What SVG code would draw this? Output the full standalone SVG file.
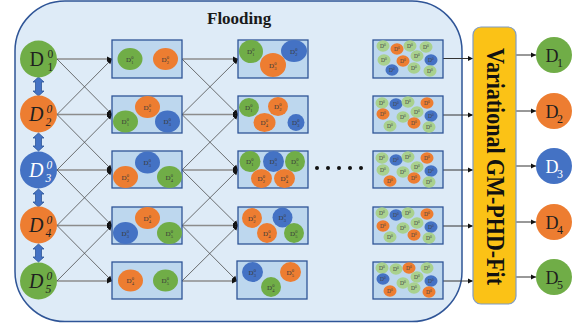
<svg xmlns="http://www.w3.org/2000/svg" width="581" height="323" viewBox="0 0 581 323">
<defs>
<marker id="ah" markerWidth="6" markerHeight="6" refX="5" refY="3" orient="auto" markerUnits="userSpaceOnUse"><path d="M0,0.5 L5,3 L0,5.5 Z" fill="#111"/></marker>
</defs>
<style>
.g{fill:#70AD47}.o{fill:#ED7D31}.b{fill:#4472C4}.lg{fill:#A9D18E}
.box{fill:#BDD7EE;stroke:#2F5597;stroke-width:1.3}
.h{stroke:#8c8c8c;stroke-width:1.6;fill:none}
.d{stroke:#4d4d4d;stroke-width:0.8;fill:none}
.a{stroke:#333;stroke-width:1;fill:none}
text{font-family:"Liberation Serif","Times New Roman",serif}
.big{font-size:20px;fill:#1f1f1f}
.bigs{font-size:11.5px}
.s{font-size:7px;fill:#3a3a3a}
.ss{font-size:4.5px}
.t{font-size:5.5px;fill:#444}
.ts{font-size:3.5px}
.dda{fill:#4472C4;stroke:#2F5597;stroke-width:0.8}
</style>

<g id="container">
<rect x="15" y="1" width="447" height="320.5" rx="50" fill="#DEEBF7" stroke="#2F5597" stroke-width="1.5"/>
<text x="207" y="24" font-size="17" font-weight="bold" fill="#1a1a1a">Flooding</text>
</g>

<g id="connectors">
<line class="h" x1="57" y1="59" x2="112" y2="59" marker-end="url(#ah)"/>
<line class="h" x1="57" y1="114.5" x2="112" y2="114.5" marker-end="url(#ah)"/>
<line class="h" x1="57" y1="170" x2="112" y2="170" marker-end="url(#ah)"/>
<line class="h" x1="57" y1="225.5" x2="112" y2="225.5" marker-end="url(#ah)"/>
<line class="h" x1="57" y1="281" x2="112" y2="281" marker-end="url(#ah)"/>
<line class="d" x1="57" y1="59" x2="112" y2="114.5" marker-end="url(#ah)"/>
<line class="d" x1="57" y1="114.5" x2="112" y2="59" marker-end="url(#ah)"/>
<line class="d" x1="57" y1="114.5" x2="112" y2="170" marker-end="url(#ah)"/>
<line class="d" x1="57" y1="170" x2="112" y2="114.5" marker-end="url(#ah)"/>
<line class="d" x1="57" y1="170" x2="112" y2="225.5" marker-end="url(#ah)"/>
<line class="d" x1="57" y1="225.5" x2="112" y2="170" marker-end="url(#ah)"/>
<line class="d" x1="57" y1="225.5" x2="112" y2="281" marker-end="url(#ah)"/>
<line class="d" x1="57" y1="281" x2="112" y2="225.5" marker-end="url(#ah)"/>
<line class="h" x1="182" y1="59" x2="238" y2="59" marker-end="url(#ah)"/>
<line class="h" x1="182" y1="114.5" x2="238" y2="114.5" marker-end="url(#ah)"/>
<line class="h" x1="182" y1="170" x2="238" y2="170" marker-end="url(#ah)"/>
<line class="h" x1="182" y1="225.5" x2="238" y2="225.5" marker-end="url(#ah)"/>
<line class="h" x1="182" y1="281" x2="237" y2="281" marker-end="url(#ah)"/>
<line class="d" x1="182" y1="59" x2="238" y2="114.5" marker-end="url(#ah)"/>
<line class="d" x1="182" y1="114.5" x2="238" y2="59" marker-end="url(#ah)"/>
<line class="d" x1="182" y1="114.5" x2="238" y2="170" marker-end="url(#ah)"/>
<line class="d" x1="182" y1="170" x2="238" y2="114.5" marker-end="url(#ah)"/>
<line class="d" x1="182" y1="170" x2="238" y2="225.5" marker-end="url(#ah)"/>
<line class="d" x1="182" y1="225.5" x2="238" y2="170" marker-end="url(#ah)"/>
<line class="d" x1="182" y1="225.5" x2="237" y2="281" marker-end="url(#ah)"/>
<line class="d" x1="182" y1="281" x2="238" y2="225.5" marker-end="url(#ah)"/>
<line class="a" x1="443" y1="58.5" x2="473" y2="58.5" marker-end="url(#ah)"/>
<line class="a" x1="443" y1="115" x2="473" y2="115" marker-end="url(#ah)"/>
<line class="a" x1="443" y1="170" x2="473" y2="170" marker-end="url(#ah)"/>
<line class="a" x1="443" y1="226" x2="473" y2="226" marker-end="url(#ah)"/>
<line class="a" x1="443" y1="281" x2="473" y2="281" marker-end="url(#ah)"/>
<line class="a" x1="516" y1="55" x2="536" y2="55" marker-end="url(#ah)"/>
<line class="a" x1="516" y1="111" x2="536" y2="111" marker-end="url(#ah)"/>
<line class="a" x1="516" y1="166" x2="536" y2="166" marker-end="url(#ah)"/>
<line class="a" x1="516" y1="222" x2="536" y2="222" marker-end="url(#ah)"/>
<line class="a" x1="516" y1="277" x2="536" y2="277" marker-end="url(#ah)"/>
<path class="dda" d="M38.5,77 L44,82 L41.5,82 L41.5,91 L44,91 L38.5,96 L33,91 L35.5,91 L35.5,82 L33,82 Z"/>
<path class="dda" d="M38.5,133 L44,138 L41.5,138 L41.5,146 L44,146 L38.5,151 L33,146 L35.5,146 L35.5,138 L33,138 Z"/>
<path class="dda" d="M38.5,189 L44,194 L41.5,194 L41.5,202 L44,202 L38.5,207 L33,202 L35.5,202 L35.5,194 L33,194 Z"/>
<path class="dda" d="M38.5,244 L44,249 L41.5,249 L41.5,257 L44,257 L38.5,262 L33,257 L35.5,257 L35.5,249 L33,249 Z"/>
</g>

<g id="in1"><circle class="g" cx="38.5" cy="59" r="18.5"/><text class="big" x="29.5" y="66">D<tspan class="bigs" x="47.5" y="58">0</tspan><tspan class="bigs" x="47.5" y="70.5">1</tspan></text></g>
<g id="in2"><circle class="o" cx="38.5" cy="114" r="18.5"/><text class="big" font-style="italic" x="29" y="121">D<tspan class="bigs" x="46.5" y="113">0</tspan><tspan class="bigs" x="45.5" y="125.5">2</tspan></text></g>
<g id="in3"><circle class="b" cx="38.5" cy="170" r="18.5"/><text class="big" font-style="italic" x="29" y="177" style="fill:#fff">D<tspan class="bigs" x="46.5" y="169">0</tspan><tspan class="bigs" x="45.5" y="181.5">3</tspan></text></g>
<g id="in4"><circle class="o" cx="38.5" cy="225" r="18.5"/><text class="big" font-style="italic" x="29" y="232">D<tspan class="bigs" x="46.5" y="224">0</tspan><tspan class="bigs" x="45.5" y="236.5">4</tspan></text></g>
<g id="in5"><circle class="g" cx="38.5" cy="281" r="18.5"/><text class="big" font-style="italic" x="29" y="288">D<tspan class="bigs" x="46.5" y="280">0</tspan><tspan class="bigs" x="45.5" y="292.5">5</tspan></text></g>

<g id="c1r1"><rect class="box" x="112" y="40" width="70" height="38"/>
<ellipse class="g" cx="130" cy="59" rx="12.5" ry="11"/><text class="s" x="126" y="61.5">D<tspan class="ss" x="131.3" y="58.5">0</tspan><tspan class="ss" x="131.3" y="63.5">1</tspan></text>
<ellipse class="o" cx="165.5" cy="59" rx="12.5" ry="11"/><text class="s" x="161.5" y="61.5">D<tspan class="ss" x="166.8" y="58.5">0</tspan><tspan class="ss" x="166.8" y="63.5">2</tspan></text>
</g>
<g id="c1r2"><rect class="box" x="112" y="96" width="70" height="37"/>
<ellipse class="o" cx="147.5" cy="107" rx="12.5" ry="11"/><text class="s" x="143.5" y="109.5">D<tspan class="ss" x="148.8" y="106.5">0</tspan><tspan class="ss" x="148.8" y="111.5">2</tspan></text>
<ellipse class="g" cx="125.5" cy="121.5" rx="12.5" ry="11"/><text class="s" x="121.5" y="124">D<tspan class="ss" x="126.8" y="121">0</tspan><tspan class="ss" x="126.8" y="126">1</tspan></text>
<ellipse class="b" cx="167.5" cy="121.5" rx="12.5" ry="11"/><text class="s" x="163.5" y="124">D<tspan class="ss" x="168.8" y="121">0</tspan><tspan class="ss" x="168.8" y="126">3</tspan></text>
</g>
<g id="c1r3"><rect class="box" x="112" y="151" width="70" height="37"/>
<ellipse class="b" cx="147.5" cy="162.5" rx="12.5" ry="11"/><text class="s" x="143.5" y="165">D<tspan class="ss" x="148.8" y="162">0</tspan><tspan class="ss" x="148.8" y="167">3</tspan></text>
<ellipse class="o" cx="125.5" cy="177" rx="12.5" ry="11"/><text class="s" x="121.5" y="179.5">D<tspan class="ss" x="126.8" y="176.5">0</tspan><tspan class="ss" x="126.8" y="181.5">2</tspan></text>
<ellipse class="g" cx="169.5" cy="177" rx="12.5" ry="11"/><text class="s" x="165.5" y="179.5">D<tspan class="ss" x="170.8" y="176.5">0</tspan><tspan class="ss" x="170.8" y="181.5">4</tspan></text>
</g>
<g id="c1r4"><rect class="box" x="112" y="207" width="70" height="37"/>
<ellipse class="o" cx="147.5" cy="218" rx="12.5" ry="11"/><text class="s" x="143.5" y="220.5">D<tspan class="ss" x="148.8" y="217.5">0</tspan><tspan class="ss" x="148.8" y="222.5">4</tspan></text>
<ellipse class="b" cx="125.5" cy="233" rx="12.5" ry="11"/><text class="s" x="121.5" y="235.5">D<tspan class="ss" x="126.8" y="232.5">0</tspan><tspan class="ss" x="126.8" y="237.5">3</tspan></text>
<ellipse class="g" cx="169.5" cy="233" rx="12.5" ry="11"/><text class="s" x="165.5" y="235.5">D<tspan class="ss" x="170.8" y="232.5">0</tspan><tspan class="ss" x="170.8" y="237.5">5</tspan></text>
</g>
<g id="c1r5"><rect class="box" x="112" y="262" width="70" height="37"/>
<ellipse class="o" cx="130.5" cy="280.5" rx="12.5" ry="11"/><text class="s" x="126.5" y="283">D<tspan class="ss" x="131.8" y="280">0</tspan><tspan class="ss" x="131.8" y="285">4</tspan></text>
<ellipse class="g" cx="165.5" cy="280.5" rx="12.5" ry="11"/><text class="s" x="161.5" y="283">D<tspan class="ss" x="166.8" y="280">0</tspan><tspan class="ss" x="166.8" y="285">5</tspan></text>
</g>

<g id="c2r1"><rect class="box" x="238" y="40" width="70" height="38"/>
<ellipse class="g" cx="251" cy="51.5" rx="12" ry="11.5"/><text class="s" x="247" y="54">D<tspan class="ss" x="252.3" y="51">0</tspan><tspan class="ss" x="252.3" y="56">1</tspan></text>
<ellipse class="b" cx="294" cy="51" rx="13" ry="11"/><text class="s" x="290" y="53.5">D<tspan class="ss" x="295.3" y="50.5">0</tspan><tspan class="ss" x="295.3" y="55.5">2</tspan></text>
<ellipse class="o" cx="273" cy="65" rx="13" ry="12"/><text class="s" x="269" y="67.5">D<tspan class="ss" x="274.3" y="64.5">0</tspan><tspan class="ss" x="274.3" y="69.5">3</tspan></text>
</g>
<g id="c2r2"><rect class="box" x="238" y="96" width="70" height="37"/>
<ellipse class="g" cx="249" cy="107.5" rx="10" ry="9.5"/><text class="s" x="245" y="110">D<tspan class="ss" x="250.3" y="107">0</tspan><tspan class="ss" x="250.3" y="112">1</tspan></text>
<ellipse class="o" cx="278" cy="106.5" rx="10" ry="9.5"/><text class="s" x="274" y="109">D<tspan class="ss" x="279.3" y="106">0</tspan><tspan class="ss" x="279.3" y="111">2</tspan></text>
<ellipse class="o" cx="264.5" cy="122.5" rx="11" ry="9.5"/><text class="s" x="260.5" y="125">D<tspan class="ss" x="265.8" y="122">0</tspan><tspan class="ss" x="265.8" y="127">4</tspan></text>
<ellipse class="b" cx="296" cy="122.5" rx="8.5" ry="8.5"/><text class="s" x="292" y="125">D<tspan class="ss" x="297.3" y="122">0</tspan><tspan class="ss" x="297.3" y="127">3</tspan></text>
</g>
<g id="c2r3"><rect class="box" x="238" y="151" width="70" height="37"/>
<ellipse class="g" cx="250" cy="161.5" rx="10.5" ry="10.5"/><text class="s" x="246" y="164">D<tspan class="ss" x="251.3" y="161">0</tspan><tspan class="ss" x="251.3" y="166">1</tspan></text>
<ellipse class="b" cx="273.5" cy="161.5" rx="10.5" ry="10.5"/><text class="s" x="269.5" y="164">D<tspan class="ss" x="274.8" y="161">0</tspan><tspan class="ss" x="274.8" y="166">3</tspan></text>
<ellipse class="g" cx="295" cy="161.5" rx="10" ry="10.5"/><text class="s" x="291" y="164">D<tspan class="ss" x="296.3" y="161">0</tspan><tspan class="ss" x="296.3" y="166">5</tspan></text>
<ellipse class="o" cx="261.5" cy="178.5" rx="10.5" ry="9.5"/><text class="s" x="257.5" y="181">D<tspan class="ss" x="262.8" y="178">0</tspan><tspan class="ss" x="262.8" y="183">2</tspan></text>
<ellipse class="o" cx="284.5" cy="178.5" rx="10.5" ry="9.5"/><text class="s" x="280.5" y="181">D<tspan class="ss" x="285.8" y="178">0</tspan><tspan class="ss" x="285.8" y="183">4</tspan></text>
</g>
<g id="c2r4"><rect class="box" x="238" y="207" width="70" height="37"/>
<ellipse class="o" cx="252" cy="218" rx="10" ry="10"/><text class="s" x="248" y="220.5">D<tspan class="ss" x="253.3" y="217.5">0</tspan><tspan class="ss" x="253.3" y="222.5">2</tspan></text>
<ellipse class="b" cx="282.5" cy="217.5" rx="10" ry="10"/><text class="s" x="278.5" y="220">D<tspan class="ss" x="283.8" y="217">0</tspan><tspan class="ss" x="283.8" y="222">3</tspan></text>
<ellipse class="o" cx="267" cy="233" rx="10" ry="10"/><text class="s" x="263" y="235.5">D<tspan class="ss" x="268.3" y="232.5">0</tspan><tspan class="ss" x="268.3" y="237.5">4</tspan></text>
<ellipse class="g" cx="294" cy="233" rx="10" ry="10"/><text class="s" x="290" y="235.5">D<tspan class="ss" x="295.3" y="232.5">0</tspan><tspan class="ss" x="295.3" y="237.5">5</tspan></text>
</g>
<g id="c2r5"><rect class="box" x="237" y="261" width="70" height="38"/>
<ellipse class="b" cx="252.5" cy="272" rx="10.5" ry="10"/><text class="s" x="248.5" y="274.5">D<tspan class="ss" x="253.8" y="271.5">0</tspan><tspan class="ss" x="253.8" y="276.5">3</tspan></text>
<ellipse class="o" cx="290.5" cy="272" rx="10.5" ry="10"/><text class="s" x="286.5" y="274.5">D<tspan class="ss" x="291.8" y="271.5">0</tspan><tspan class="ss" x="291.8" y="276.5">5</tspan></text>
<ellipse class="g" cx="271" cy="287" rx="10" ry="10"/><text class="s" x="267" y="289.5">D<tspan class="ss" x="272.3" y="286.5">0</tspan><tspan class="ss" x="272.3" y="291.5">4</tspan></text>
</g>

<g id="dots" fill="#111">
<circle cx="317" cy="168" r="2"/><circle cx="328" cy="168" r="2"/><circle cx="339" cy="168" r="2"/><circle cx="350" cy="168" r="2"/><circle cx="361" cy="168" r="2"/>
</g>

<g id="c4r1"><rect class="box" x="373" y="40" width="70" height="38"/>
<ellipse class="lg" cx="383" cy="46" rx="6.5" ry="5.8"/><text class="t" x="380" y="48">D<tspan class="ts" dy="-2.3">0</tspan></text>
<ellipse class="o" cx="397" cy="49" rx="6.5" ry="5.8"/><text class="t" x="394" y="51">D<tspan class="ts" dy="-2.3">0</tspan></text>
<ellipse class="lg" cx="410" cy="46" rx="6.5" ry="5.8"/><text class="t" x="407" y="48">D<tspan class="ts" dy="-2.3">0</tspan></text>
<ellipse class="lg" cx="426" cy="47" rx="6.5" ry="5.8"/><text class="t" x="423" y="49">D<tspan class="ts" dy="-2.3">0</tspan></text>
<ellipse class="lg" cx="384" cy="60" rx="6.5" ry="5.8"/><text class="t" x="381" y="62">D<tspan class="ts" dy="-2.3">0</tspan></text>
<ellipse class="o" cx="403" cy="61" rx="6.5" ry="5.8"/><text class="t" x="400" y="63">D<tspan class="ts" dy="-2.3">0</tspan></text>
<ellipse class="lg" cx="417" cy="56" rx="6.5" ry="5.8"/><text class="t" x="414" y="58">D<tspan class="ts" dy="-2.3">0</tspan></text>
<ellipse class="b" cx="431" cy="60" rx="6.5" ry="5.8"/><text class="t" x="428" y="62">D<tspan class="ts" dy="-2.3">0</tspan></text>
<ellipse class="b" cx="392" cy="70" rx="6.5" ry="5.8"/><text class="t" x="389" y="72">D<tspan class="ts" dy="-2.3">0</tspan></text>
<ellipse class="lg" cx="414" cy="68" rx="6.5" ry="5.8"/><text class="t" x="411" y="70">D<tspan class="ts" dy="-2.3">0</tspan></text>
<ellipse class="lg" cx="430" cy="71" rx="6.5" ry="5.8"/><text class="t" x="427" y="73">D<tspan class="ts" dy="-2.3">0</tspan></text>
</g>
<g id="c4r2"><rect class="box" x="373" y="96" width="70" height="37"/>
<ellipse class="lg" cx="382" cy="103" rx="6.5" ry="5.8"/><text class="t" x="379" y="105">D<tspan class="ts" dy="-2.3">0</tspan></text>
<ellipse class="b" cx="396" cy="104" rx="6.5" ry="5.8"/><text class="t" x="393" y="106">D<tspan class="ts" dy="-2.3">0</tspan></text>
<ellipse class="lg" cx="408" cy="102" rx="6.5" ry="5.8"/><text class="t" x="405" y="104">D<tspan class="ts" dy="-2.3">0</tspan></text>
<ellipse class="o" cx="427" cy="103" rx="6.5" ry="5.8"/><text class="t" x="424" y="105">D<tspan class="ts" dy="-2.3">0</tspan></text>
<ellipse class="o" cx="383" cy="114" rx="6.5" ry="5.8"/><text class="t" x="380" y="116">D<tspan class="ts" dy="-2.3">0</tspan></text>
<ellipse class="lg" cx="403" cy="117" rx="6.5" ry="5.8"/><text class="t" x="400" y="119">D<tspan class="ts" dy="-2.3">0</tspan></text>
<ellipse class="lg" cx="417" cy="112" rx="6.5" ry="5.8"/><text class="t" x="414" y="114">D<tspan class="ts" dy="-2.3">0</tspan></text>
<ellipse class="b" cx="431" cy="116" rx="6.5" ry="5.8"/><text class="t" x="428" y="118">D<tspan class="ts" dy="-2.3">0</tspan></text>
<ellipse class="lg" cx="390" cy="126" rx="6.5" ry="5.8"/><text class="t" x="387" y="128">D<tspan class="ts" dy="-2.3">0</tspan></text>
<ellipse class="o" cx="414" cy="123" rx="6.5" ry="5.8"/><text class="t" x="411" y="125">D<tspan class="ts" dy="-2.3">0</tspan></text>
<ellipse class="lg" cx="429" cy="127" rx="6.5" ry="5.8"/><text class="t" x="426" y="129">D<tspan class="ts" dy="-2.3">0</tspan></text>
</g>
<g id="c4r3"><rect class="box" x="373" y="151" width="70" height="37"/>
<ellipse class="lg" cx="382" cy="158" rx="6.5" ry="5.8"/><text class="t" x="379" y="160">D<tspan class="ts" dy="-2.3">0</tspan></text>
<ellipse class="b" cx="396" cy="160" rx="6.5" ry="5.8"/><text class="t" x="393" y="162">D<tspan class="ts" dy="-2.3">0</tspan></text>
<ellipse class="lg" cx="408" cy="157" rx="6.5" ry="5.8"/><text class="t" x="405" y="159">D<tspan class="ts" dy="-2.3">0</tspan></text>
<ellipse class="o" cx="427" cy="158" rx="6.5" ry="5.8"/><text class="t" x="424" y="160">D<tspan class="ts" dy="-2.3">0</tspan></text>
<ellipse class="lg" cx="383" cy="170" rx="6.5" ry="5.8"/><text class="t" x="380" y="172">D<tspan class="ts" dy="-2.3">0</tspan></text>
<ellipse class="lg" cx="403" cy="172" rx="6.5" ry="5.8"/><text class="t" x="400" y="174">D<tspan class="ts" dy="-2.3">0</tspan></text>
<ellipse class="lg" cx="417" cy="167" rx="6.5" ry="5.8"/><text class="t" x="414" y="169">D<tspan class="ts" dy="-2.3">0</tspan></text>
<ellipse class="b" cx="431" cy="171" rx="6.5" ry="5.8"/><text class="t" x="428" y="173">D<tspan class="ts" dy="-2.3">0</tspan></text>
<ellipse class="o" cx="390" cy="181" rx="6.5" ry="5.8"/><text class="t" x="387" y="183">D<tspan class="ts" dy="-2.3">0</tspan></text>
<ellipse class="o" cx="414" cy="178" rx="6.5" ry="5.8"/><text class="t" x="411" y="180">D<tspan class="ts" dy="-2.3">0</tspan></text>
<ellipse class="lg" cx="429" cy="182" rx="6.5" ry="5.8"/><text class="t" x="426" y="184">D<tspan class="ts" dy="-2.3">0</tspan></text>
</g>
<g id="c4r4"><rect class="box" x="373" y="207" width="70" height="37"/>
<ellipse class="lg" cx="382" cy="213" rx="6.5" ry="5.8"/><text class="t" x="379" y="215">D<tspan class="ts" dy="-2.3">0</tspan></text>
<ellipse class="b" cx="396" cy="215" rx="6.5" ry="5.8"/><text class="t" x="393" y="217">D<tspan class="ts" dy="-2.3">0</tspan></text>
<ellipse class="lg" cx="408" cy="213" rx="6.5" ry="5.8"/><text class="t" x="405" y="215">D<tspan class="ts" dy="-2.3">0</tspan></text>
<ellipse class="o" cx="427" cy="214" rx="6.5" ry="5.8"/><text class="t" x="424" y="216">D<tspan class="ts" dy="-2.3">0</tspan></text>
<ellipse class="o" cx="383" cy="226" rx="6.5" ry="5.8"/><text class="t" x="380" y="228">D<tspan class="ts" dy="-2.3">0</tspan></text>
<ellipse class="lg" cx="403" cy="228" rx="6.5" ry="5.8"/><text class="t" x="400" y="230">D<tspan class="ts" dy="-2.3">0</tspan></text>
<ellipse class="lg" cx="417" cy="223" rx="6.5" ry="5.8"/><text class="t" x="414" y="225">D<tspan class="ts" dy="-2.3">0</tspan></text>
<ellipse class="b" cx="431" cy="227" rx="6.5" ry="5.8"/><text class="t" x="428" y="229">D<tspan class="ts" dy="-2.3">0</tspan></text>
<ellipse class="lg" cx="390" cy="237" rx="6.5" ry="5.8"/><text class="t" x="387" y="239">D<tspan class="ts" dy="-2.3">0</tspan></text>
<ellipse class="o" cx="414" cy="235" rx="6.5" ry="5.8"/><text class="t" x="411" y="237">D<tspan class="ts" dy="-2.3">0</tspan></text>
<ellipse class="lg" cx="429" cy="238" rx="6.5" ry="5.8"/><text class="t" x="426" y="240">D<tspan class="ts" dy="-2.3">0</tspan></text>
</g>
<g id="c4r5"><rect class="box" x="373" y="262" width="70" height="37"/>
<ellipse class="lg" cx="382" cy="268" rx="6.5" ry="5.8"/><text class="t" x="379" y="270">D<tspan class="ts" dy="-2.3">0</tspan></text>
<ellipse class="lg" cx="396" cy="269" rx="6.5" ry="5.8"/><text class="t" x="393" y="271">D<tspan class="ts" dy="-2.3">0</tspan></text>
<ellipse class="o" cx="409" cy="268" rx="6.5" ry="5.8"/><text class="t" x="406" y="270">D<tspan class="ts" dy="-2.3">0</tspan></text>
<ellipse class="lg" cx="427" cy="268" rx="6.5" ry="5.8"/><text class="t" x="424" y="270">D<tspan class="ts" dy="-2.3">0</tspan></text>
<ellipse class="b" cx="383" cy="279" rx="6.5" ry="5.8"/><text class="t" x="380" y="281">D<tspan class="ts" dy="-2.3">0</tspan></text>
<ellipse class="lg" cx="403" cy="283" rx="6.5" ry="5.8"/><text class="t" x="400" y="285">D<tspan class="ts" dy="-2.3">0</tspan></text>
<ellipse class="lg" cx="417" cy="277" rx="6.5" ry="5.8"/><text class="t" x="414" y="279">D<tspan class="ts" dy="-2.3">0</tspan></text>
<ellipse class="b" cx="431" cy="281" rx="6.5" ry="5.8"/><text class="t" x="428" y="283">D<tspan class="ts" dy="-2.3">0</tspan></text>
<ellipse class="o" cx="390" cy="291" rx="6.5" ry="5.8"/><text class="t" x="387" y="293">D<tspan class="ts" dy="-2.3">0</tspan></text>
<ellipse class="lg" cx="414" cy="288" rx="6.5" ry="5.8"/><text class="t" x="411" y="290">D<tspan class="ts" dy="-2.3">0</tspan></text>
<ellipse class="o" cx="429" cy="292" rx="6.5" ry="5.8"/><text class="t" x="426" y="294">D<tspan class="ts" dy="-2.3">0</tspan></text>
</g>

<g id="fit">
<rect x="473" y="27" width="43" height="277" rx="8" fill="#FBC216" stroke="#7F9CC6" stroke-width="1.2"/>
<text transform="translate(487,166.5) rotate(90)" text-anchor="middle" font-size="25" font-weight="bold" fill="#111" textLength="237" lengthAdjust="spacingAndGlyphs">Variational GM-PHD-Fit</text>
</g>

<g id="out1"><circle class="g" cx="554" cy="55" r="18"/><text x="545.5" y="62" font-size="18" fill="#1f1f1f">D<tspan x="557" y="66.5" font-size="12">1</tspan></text></g>
<g id="out2"><circle class="o" cx="554" cy="111" r="18"/><text x="545.5" y="118" font-size="18" fill="#1f1f1f">D<tspan x="557" y="122.5" font-size="12">2</tspan></text></g>
<g id="out3"><circle class="b" cx="554" cy="166" r="18"/><text x="545.5" y="173" font-size="18" fill="#fff">D<tspan x="557" y="177.5" font-size="12">3</tspan></text></g>
<g id="out4"><circle class="o" cx="554" cy="222" r="18"/><text x="545.5" y="229" font-size="18" fill="#1f1f1f">D<tspan x="557" y="233.5" font-size="12">4</tspan></text></g>
<g id="out5"><circle class="g" cx="554" cy="277" r="18"/><text x="545.5" y="284" font-size="18" fill="#1f1f1f">D<tspan x="557" y="288.5" font-size="12">5</tspan></text></g>
</svg>
